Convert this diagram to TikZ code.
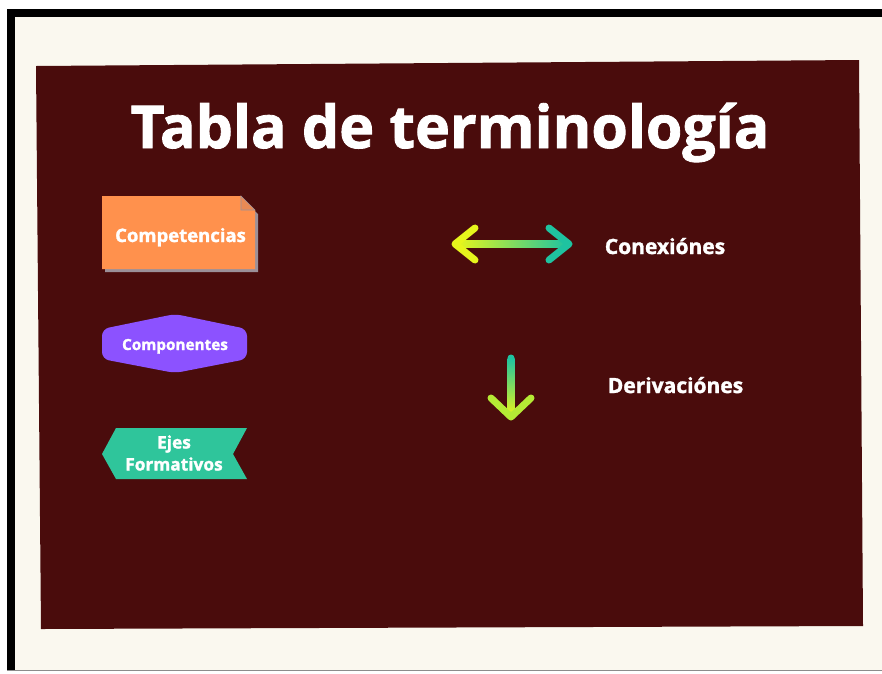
\documentclass[tikz,border=0pt]{standalone}
\usepackage{fontspec}
\setmainfont{Open Sans}[BoldFeatures={FakeBold=1.5}]
\usetikzlibrary{positioning,calc}
\definecolor{maroonbg}{HTML}{4A0C0C}
\definecolor{cream}{HTML}{FAF8EF}
\definecolor{compOrange}{HTML}{FF914D}
\definecolor{foldOrange}{HTML}{E98A55}
\definecolor{compPurple}{HTML}{8C52FF}
\definecolor{ejeGreen}{HTML}{2FC59B}
\definecolor{arrYellow}{HTML}{E6F51C}
\definecolor{arrLime}{HTML}{B5EA35}
\definecolor{arrTeal}{HTML}{1FC3A0}
\definecolor{shadowGray}{HTML}{9B9099}

\begin{document}
\begin{tikzpicture}[x=1pt,y=-1pt,
  label/.style={text=white,font=\bfseries},
  arrowline/.style={line width=7,line cap=round,line join=round}]
\useasboundingbox (0,0) rectangle (882,673);
\fill[white] (0,0) rectangle (882,673);
\fill[cream] (15,17) rectangle (882,670);
\fill[black] (7,9) rectangle (882,17);
\fill[black] (7,9) rectangle (15,670);
\draw[black!45,line width=1.5] (7,670.5) -- (882,670.5);
\fill[maroonbg] (36,66) -- (859,60) -- (863,626) -- (41,629) -- cycle;

\node[label,font=\bfseries\fontsize{59}{62}\selectfont,anchor=base] (title) at (450,148) {Tabla de terminología};

\fill[shadowGray] (105,199) -- (243,199) -- (258,214) -- (258,272) -- (105,272) -- cycle;
\fill[compOrange] (102,196) -- (241,196) -- (255,210) -- (255,269) -- (102,269) -- cycle;
\filldraw[fill=foldOrange,draw=shadowGray,line width=0.6] (241,196) -- (255,210) -- (241,210) -- cycle;
\node[label,font=\bfseries\fontsize{18.5}{20}\selectfont,anchor=base] (comp) at (180.5,242) {Competencias};

\fill[compPurple,rounded corners=7] (102,329) -- (175,314) -- (247,329) -- (247,359) -- (175,373) -- (102,359) -- cycle;
\node[label,font=\bfseries\fontsize{15.3}{18}\selectfont,anchor=base] (compo) at (175,350) {Componentes};

\fill[ejeGreen] (102,454) -- (116,428) -- (247,428) -- (233,454) -- (247,479) -- (116,479) -- cycle;
\node[label,font=\bfseries\fontsize{17.3}{22}\selectfont,align=center] (ejes) at (174,453) {Ejes\\Formativos};

\coordinate (cxL) at (455,244);
\coordinate (cxR) at (569,244);
\shade[left color=arrYellow,right color=arrTeal] ($(cxL)+(2,-3.5)$) rectangle ($(cxR)+(-2,3.5)$);
\draw[arrYellow,arrowline] (475,228) -- (cxL) -- (475,260);
\draw[arrTeal,arrowline] (549,228) -- (cxR) -- (549,260);
\node[label,font=\bfseries\fontsize{21}{24}\selectfont,anchor=base] (conex) at (665,254) {Conexiónes};

\coordinate (dvT) at (511,358);
\coordinate (dvB) at (511,417);
\fill[arrTeal] (dvT) circle (3.5);
\shade[top color=arrTeal,bottom color=arrYellow] ($(dvT)+(-3.5,0)$) rectangle ($(dvB)+(3.5,-2)$);
\draw[arrLime,arrowline] (491,398) -- (dvB) -- (531,398);
\node[label,font=\bfseries\fontsize{21}{24}\selectfont,anchor=base] (deriv) at (675.5,393) {Derivaciónes};
\end{tikzpicture}
\end{document}
